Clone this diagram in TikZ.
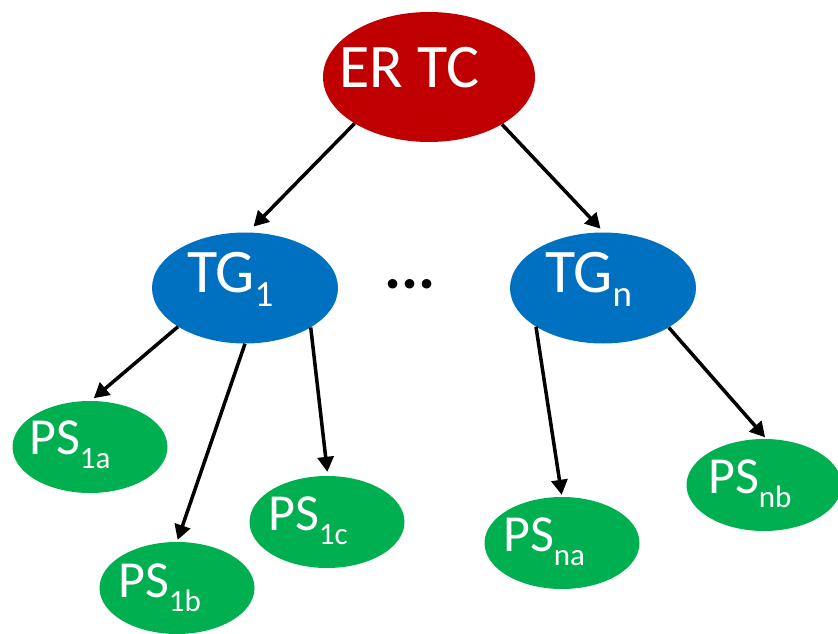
\documentclass[tikz,border=0pt]{standalone}
\usepackage{fontspec}
\setmainfont{Carlito}
\usetikzlibrary{arrows.meta,shapes.geometric}
\definecolor{ertcred}{HTML}{C00000}
\definecolor{tgblue}{HTML}{0070C0}
\definecolor{psgreen}{HTML}{00B050}
\newcommand\tgsub[1]{\raisebox{-14pt}{\fontsize{37}{40}\selectfont #1}}
\newcommand\pssub[1]{\raisebox{-14pt}{\fontsize{31}{34}\selectfont #1}}
\begin{document}
\begin{tikzpicture}[x=1pt,y=-1pt,
  oval/.style={ellipse,inner sep=0pt,draw=none},
  rootoval/.style={oval,fill=ertcred,minimum width=212pt,minimum height=130pt},
  tgoval/.style={oval,fill=tgblue,minimum width=186pt,minimum height=111pt},
  psoval/.style={oval,fill=psgreen,minimum width=155pt,minimum height=92pt},
  bigtxt/.style={text=white,inner sep=0pt,anchor=base west,font=\fontsize{62}{68}\selectfont},
  pstxt/.style={text=white,inner sep=0pt,anchor=base west,font=\fontsize{52}{58}\selectfont},
  conn/.style={line width=3.5pt,-{Triangle[length=15pt,width=16pt]}}]
\useasboundingbox (0,0) rectangle (838,634);
% ovals
\node[rootoval] (ertc) at (429,77) {};
\node[tgoval] (tg1) at (245,288) {};
\node[tgoval] (tgn) at (603,288) {};
\node[psoval] (ps1a) at (90,447) {};
\node[psoval] (ps1b) at (177,588) {};
\node[psoval] (ps1c) at (327,522) {};
\node[psoval] (psna) at (562,543) {};
\node[psoval] (psnb) at (764,485) {};
% texts
\node[bigtxt] (ertct) at (339,88) {ER TC};
\node[bigtxt] (tg1t) at (187,292) {TG\tgsub{1}};
\node[bigtxt] (tgnt) at (545,292) {TG\tgsub{n}};
\node[pstxt] (ps1at) at (29,454) {PS\pssub{1a}};
\node[pstxt] (ps1bt) at (118,597) {PS\pssub{1b}};
\node[pstxt] (ps1ct) at (268,530) {PS\pssub{1c}};
\node[pstxt] (psnat) at (503,551) {PS\pssub{na}};
\node[pstxt] (psnbt) at (708,493) {PS\pssub{nb}};
\node[inner sep=0pt,font=\bfseries\fontsize{64}{70}\selectfont] (dots) at (410,284) {...};
% connectors
\draw[conn,shorten >=8pt] (ertc.212.5) -- (tg1.87.3);
\draw[conn,shorten >=5pt] (ertc.327.7) -- (tgn.89);
\draw[conn,shorten >=4pt] (tg1.210.5) -- (ps1a.89);
\draw[conn,shorten >=2pt] (tg1.270) -- (ps1b.90);
\draw[conn,shorten >=4pt] (tg1.329.5) -- (ps1c.89);
\draw[conn,shorten >=2pt] (tgn.210.8) -- (psna.90);
\draw[conn,shorten >=2pt] (tgn.329.5) -- (psnb.87.6);
\end{tikzpicture}
\end{document}
